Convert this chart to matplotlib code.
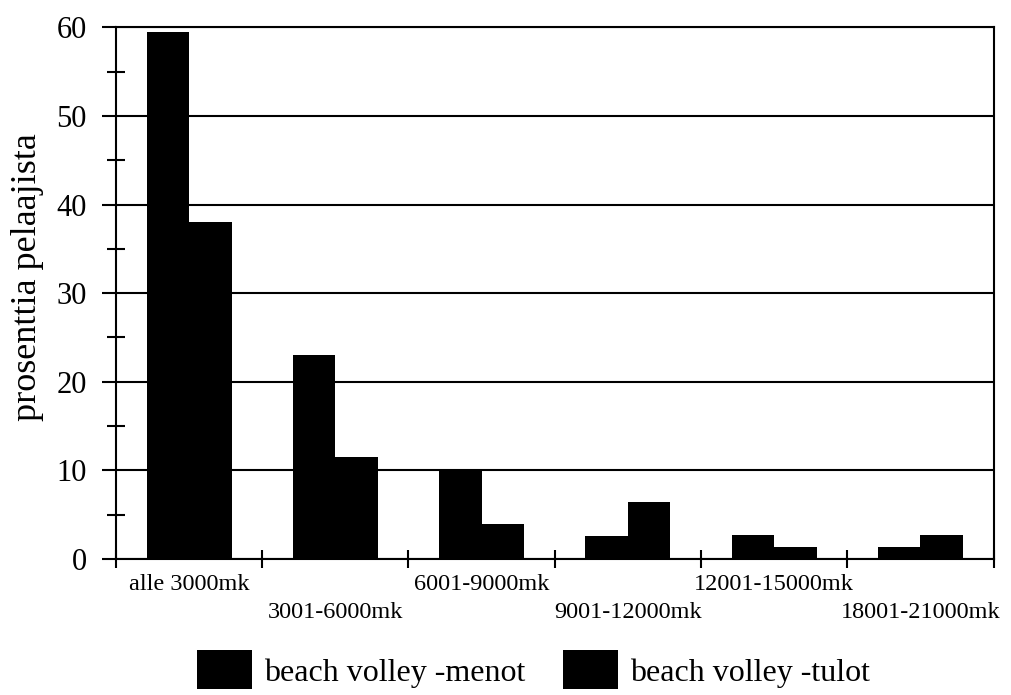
import matplotlib.pyplot as plt
import numpy as np
from matplotlib.ticker import FixedLocator, MultipleLocator

# data
categories = ["alle 3000mk", "3001-6000mk", "6001-9000mk",
              "9001-12000mk", "12001-15000mk", "18001-21000mk"]
menot = [59.5, 23.0, 10.2, 2.6, 2.7, 1.4]
tulot = [38.0, 11.5, 3.9, 6.4, 1.4, 2.7]
series_names = ["beach volley -menot", "beach volley -tulot"]

plt.rcParams["font.family"] = ["Liberation Serif", "DejaVu Serif"]

fig = plt.figure(figsize=(10.11, 6.95), dpi=100)
ax = fig.add_axes([0.1147, 0.1957, 0.868, 0.765])

x = np.arange(len(categories))
w = 0.29
ax.bar(x - w / 2, menot, width=w, color="black", label=series_names[0])
ax.bar(x + w / 2, tulot, width=w, color="black", label=series_names[1])

ax.set_xlim(-0.5, len(categories) - 0.5)
ax.set_ylim(0, 60)

# horizontal grid
ax.yaxis.set_major_locator(MultipleLocator(10))
ax.yaxis.set_minor_locator(MultipleLocator(5))
ax.grid(axis="y", which="major", color="black", lw=1.5)
ax.set_axisbelow(True)

for s in ax.spines.values():
    s.set_linewidth(1.5)

ax.tick_params(axis="y", which="major", direction="out", length=10, width=1.5,
               labelsize=22, pad=11)
ax.tick_params(axis="y", which="minor", direction="inout", length=13, width=1.5)

# x ticks at category boundaries, labels in two staggered rows
ax.xaxis.set_major_locator(FixedLocator(np.arange(len(categories) + 1) - 0.5))
ax.set_xticklabels([])
ax.tick_params(axis="x", which="major", direction="inout", length=13, width=1.5)
for i, lab in enumerate(categories):
    row = i % 2
    ax.annotate(lab, xy=(x[i], 0), xycoords=("data", "axes fraction"),
                xytext=(0, -11 - row * 20), textcoords="offset points",
                ha="center", va="top", fontsize=17.5)

ax.set_ylabel("prosenttia pelaajista", fontsize=26)
ax.yaxis.set_label_coords(-0.082, 0.53)

fig.legend(loc="center", bbox_to_anchor=(0.5277, 0.036), ncol=2, frameon=False,
           fontsize=23, handlelength=1.72, handleheight=1.5,
           handletextpad=0.37, columnspacing=1.19, borderpad=0)

fig.savefig("out.png", dpi=100)
